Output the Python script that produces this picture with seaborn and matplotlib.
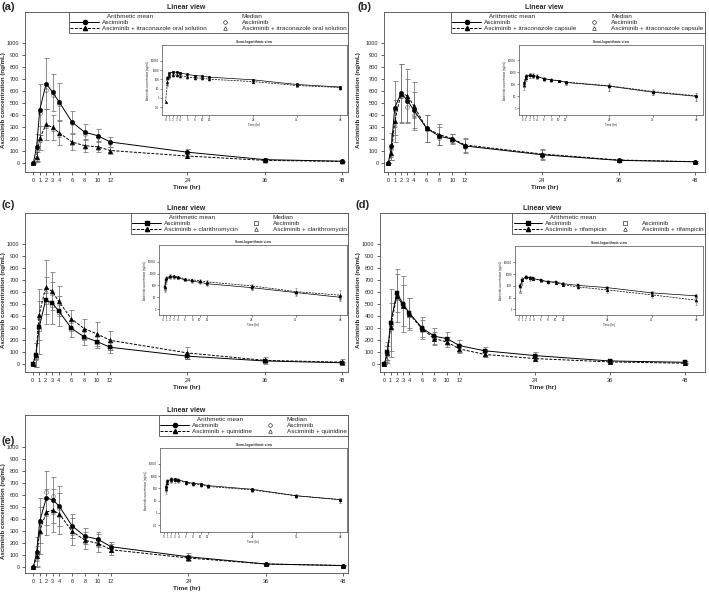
import numpy as np
import matplotlib
matplotlib.use("Agg")
import matplotlib.pyplot as plt
import seaborn as sns
from matplotlib.lines import Line2D
from matplotlib.legend_handler import HandlerLine2D

# sampling times (hr)
times = [0, 0.5, 1, 2, 3, 4, 6, 8, 10, 12, 24, 36, 48]
times_d = [0, 0.5, 1, 2, 3, 4, 6, 8, 10, 12, 16, 24, 36, 48]

# (a) itraconazole oral solution
a_asc_mean = [0, 130, 444, 662, 588, 510, 342, 256, 228, 175, 90, 28, 15]
a_asc_sd = [0, 110, 210, 212, 152, 156, 95, 68, 52, 42, 28, 10, 5]
a_asc_med = [0, 110, 420, 612, 570, 490, 330, 245, 215, 165, 80, 25, 13]
a_co_mean = [0.4, 50, 208, 322, 296, 252, 175, 144, 135, 104, 58, 22, 13]
a_co_sd = [0, 40, 100, 132, 108, 105, 68, 55, 45, 33, 20, 8, 5]
a_co_med = [0, 30, 190, 305, 280, 235, 165, 135, 125, 98, 55, 20, 12]

# (b) itraconazole capsule
b_asc_mean = [0, 139, 458, 583, 519, 439, 289, 222, 200, 142, 69, 22, 10]
b_asc_sd = [0, 110, 228, 240, 180, 150, 110, 75, 45, 55, 40, 10, 8]
b_asc_med = [0, 120, 440, 560, 470, 400, 280, 210, 190, 135, 60, 20, 9]
b_co_mean = [0, 83, 347, 578, 561, 475, 289, 236, 203, 150, 75, 25, 11]
b_co_sd = [0, 60, 175, 245, 225, 200, 110, 85, 40, 55, 45, 12, 8]
b_co_med = [0, 70, 320, 560, 540, 390, 280, 225, 195, 140, 70, 22, 10]

# (c) clarithromycin
c_asc_mean = [0, 78, 306, 531, 508, 444, 297, 225, 186, 139, 65, 25, 10]
c_asc_sd = [0, 100, 220, 194, 172, 124, 72, 65, 51, 44, 25, 10, 5]
c_asc_med = [0, 60, 290, 520, 490, 430, 290, 215, 180, 130, 60, 22, 8]
c_co_mean = [0, 75, 411, 639, 606, 525, 375, 294, 250, 197, 92, 30, 15]
c_co_sd = [0, 100, 210, 225, 160, 122, 78, 84, 97, 81, 50, 30, 25]
c_co_med = [0, 50, 390, 610, 590, 510, 360, 285, 240, 190, 85, 28, 12]

# (d) rifampicin
d_asc_mean = [0, 97, 342, 592, 500, 425, 300, 231, 211, 153, 110, 70, 25, 14]
d_asc_sd = [0, 90, 280, 158, 230, 125, 92, 66, 56, 50, 35, 30, 10, 8]
d_asc_med = [0, 80, 330, 560, 490, 410, 290, 225, 205, 150, 105, 65, 23, 12]
d_co_mean = [0, 92, 308, 569, 486, 417, 294, 211, 183, 125, 80, 45, 17, 6]
d_co_sd = [0, 60, 200, 220, 170, 130, 70, 55, 40, 35, 25, 20, 8, 5]
d_co_med = [0, 30, 300, 550, 480, 410, 285, 205, 180, 120, 75, 42, 15, 5]

# (e) quinidine
e_asc_mean = [0, 122, 386, 575, 561, 506, 342, 256, 231, 169, 85, 25, 12]
e_asc_sd = [0, 125, 190, 228, 192, 166, 97, 66, 63, 42, 30, 10, 5]
e_asc_med = [0, 100, 370, 628, 590, 490, 330, 250, 225, 160, 80, 23, 11]
e_co_mean = [0, 92, 303, 458, 472, 444, 297, 222, 197, 144, 75, 25, 12]
e_co_sd = [0, 80, 195, 190, 180, 170, 110, 70, 75, 45, 25, 8, 5]
e_co_med = [0, 70, 290, 440, 460, 430, 285, 215, 190, 140, 70, 23, 11]

xticks = [0, 1, 2, 3, 4, 6, 8, 10, 12, 24, 36, 48]
log_ticks = [0.1, 1, 10, 100, 1000, 10000]
log_labels = ["0.1", "1", "10", "100", "1000", "10000"]

sns.set_theme(style="ticks")
plt.rcParams['font.family'] = ['Liberation Sans', 'DejaVu Sans']
plt.rcParams['axes.edgecolor'] = '0.3'

W, H = 709, 596
fig = plt.figure(figsize=(W / 100, H / 100), dpi=100)


class MarkerRight(HandlerLine2D):
    # put the open median marker just before the text
    def get_xdata(self, legend, xdescent, ydescent, width, height, fontsize):
        xdata = np.array([-xdescent, -xdescent + width])
        return xdata, np.array([-xdescent + width - 0.35 * fontsize])


def draw_series(ax, t, mean, sd, med, marker, ls, ms, lw, cap, small=False):
    t = np.array(t, float)
    mean = np.array(mean, float)
    sd = np.array(sd, float)
    if small:
        keep = mean > 0
        t, mean, sd, med = t[keep], mean[keep], sd[keep], np.array(med, float)[keep]
        low = np.minimum(sd, mean * 0.6)
        yerr = [low, sd]
    else:
        yerr = sd
    ax.errorbar(t, mean, yerr=yerr, fmt='none', ecolor='0.45', elinewidth=lw * 0.8,
                capsize=cap, capthick=lw * 0.8, zorder=1)
    sns.lineplot(x=t, y=mean, ax=ax, color='black', marker=marker, markersize=ms,
                 linestyle=ls, linewidth=lw, markeredgecolor='black', markeredgewidth=0.3,
                 legend=False, errorbar=None, sort=False, zorder=3)
    ax.plot(t, med, linestyle='none', marker=marker, mfc='none', mec='0.35',
            ms=ms * 0.85, mew=0.4, zorder=2)


def draw_panel(box, xlim, ylim, inset_box, inset_ylim, t, asc, co, asc_marker,
               co_label, med_header, tag, tag_pos, ylab_pos):
    x0, y0, x1, y1 = box
    ax = fig.add_axes([x0 / W, 1 - y1 / H, (x1 - x0) / W, (y1 - y0) / H])
    draw_series(ax, t, *asc, asc_marker, '-', 3.2, 0.7, 1.8)
    draw_series(ax, t, *co, '^', (0, (3, 1.5)), 3.2, 0.7, 1.8)
    ax.set_xlim(*xlim)
    ax.set_ylim(*ylim)
    ax.set_xticks(xticks)
    ax.set_yticks(range(0, 1001, 100))
    ax.tick_params(labelsize=4.1, length=2.5, width=0.5, pad=1.5)
    for s in ax.spines.values():
        s.set_linewidth(0.6)
    ax.set_xlabel("Time (hr)", fontsize=4.6, fontweight='bold', labelpad=1.5)
    ax.set_ylabel("Asciminib concentration (ng/mL)", fontsize=4.4, fontweight='bold')
    ax.yaxis.set_label_coords((ylab_pos[0] - x0) / (x1 - x0), ylab_pos[1])
    ax.set_title("Linear view", fontsize=5, fontweight='bold', pad=2.5)

    blank = Line2D([], [], linestyle='none')
    h1 = Line2D([], [], color='black', lw=0.7, marker=asc_marker, ms=3)
    h2 = Line2D([], [], color='black', lw=0.7, ls=(0, (3, 1.5)), marker='^', ms=3)
    m1 = Line2D([], [], ls='none', marker=asc_marker, mfc='none', mec='black', ms=2.6, mew=0.4)
    m2 = Line2D([], [], ls='none', marker='^', mfc='none', mec='black', ms=2.6, mew=0.4)
    leg = ax.legend([blank, h1, h2, blank, m1, m2],
                    ["   Arithmetic mean", "Asciminib", co_label, med_header, "Asciminib", co_label],
                    ncol=2, loc='upper right', bbox_to_anchor=(1, 1), borderaxespad=0,
                    fontsize=4.6, handlelength=4.5, handletextpad=0.4, columnspacing=0.6,
                    borderpad=0.25, labelspacing=0.1, fancybox=False, framealpha=1,
                    edgecolor='0.3', handler_map={m1: MarkerRight(), m2: MarkerRight()})
    leg.get_frame().set_linewidth(0.6)

    ins = ax.inset_axes(inset_box)
    draw_series(ins, t, *asc, asc_marker, '-', 1.8, 0.5, 0.9, small=True)
    draw_series(ins, t, *co, '^', (0, (3, 1.5)), 1.8, 0.5, 0.9, small=True)
    ins.set_yscale('log')
    ins.set_xlim(-1, 49.8)
    ins.set_ylim(*inset_ylim)
    ins.set_xticks(xticks)
    vis = [(v, l) for v, l in zip(log_ticks, log_labels) if inset_ylim[0] <= v <= inset_ylim[1]]
    ins.set_yticks([v for v, _ in vis])
    ins.set_yticklabels([l for _, l in vis])
    ins.minorticks_off()
    ins.tick_params(labelsize=2.2, length=1.2, width=0.4, pad=0.8)
    for s in ins.spines.values():
        s.set_linewidth(0.5)
    ins.set_xlabel("Time (hr)", fontsize=2.2, labelpad=1)
    ins.set_ylabel("Asciminib concentration (ng/mL)", fontsize=2, labelpad=1)
    ins.set_title("Semi-logarithmic view", fontsize=2.4, fontweight='bold', pad=1.5)

    fig.text(tag_pos[0] / W, 1 - tag_pos[1] / H, tag, fontsize=8, fontweight='bold',
             ha='left', va='top')


draw_panel((25, 12, 348, 172), (-1.3, 49.0), (-75, 1258), [0.424, 0.356, 0.573, 0.4375],
           (10 ** -1.86, 10 ** 5.72), times, (a_asc_mean, a_asc_sd, a_asc_med),
           (a_co_mean, a_co_sd, a_co_med), 'o', "Asciminib + itraconazole oral solution",
           "Median", "(a)", (2, 2), (6, 0.45))
draw_panel((384, 12, 705, 172), (-0.67, 49.5), (-75, 1258), [0.42, 0.356, 0.573, 0.4375],
           (10 ** -0.55, 10 ** 5.25), times, (b_asc_mean, b_asc_sd, b_asc_med),
           (b_co_mean, b_co_sd, b_co_med), 'o', "Asciminib + itraconazole capsule",
           "Median", "(b)", (357, 2), (361, 0.45))
draw_panel((25, 213, 348, 372), (-1.2, 48.9), (-67, 1258), [0.415, 0.358, 0.582, 0.44],
           (10 ** -0.5, 10 ** 5.4), times, (c_asc_mean, c_asc_sd, c_asc_med),
           (c_co_mean, c_co_sd, c_co_med), 's', "Asciminib + clarithromycin",
           "Median", "(c)", (2, 200), (6, 0.45))
draw_panel((380, 213, 705, 372), (-0.69, 51.2), (-67, 1258), [0.415, 0.358, 0.578, 0.434],
           (10 ** -0.5, 10 ** 5.4), times_d, (d_asc_mean, d_asc_sd, d_asc_med),
           (d_co_mean, d_co_sd, d_co_med), 's', "Asciminib + rifampicin",
           "", "(d)", (355, 200), (361, 0.45))
draw_panel((25, 415, 348, 573), (-1.3, 48.7), (-50, 1267), [0.418, 0.26, 0.579, 0.53],
           (10 ** -1.56, 10 ** 5.29), times, (e_asc_mean, e_asc_sd, e_asc_med),
           (e_co_mean, e_co_sd, e_co_med), 'o', "Asciminib + quinidine",
           "Median", "(e)", (2, 436), (6, 0.39))

fig.savefig("out.png", dpi=100)
